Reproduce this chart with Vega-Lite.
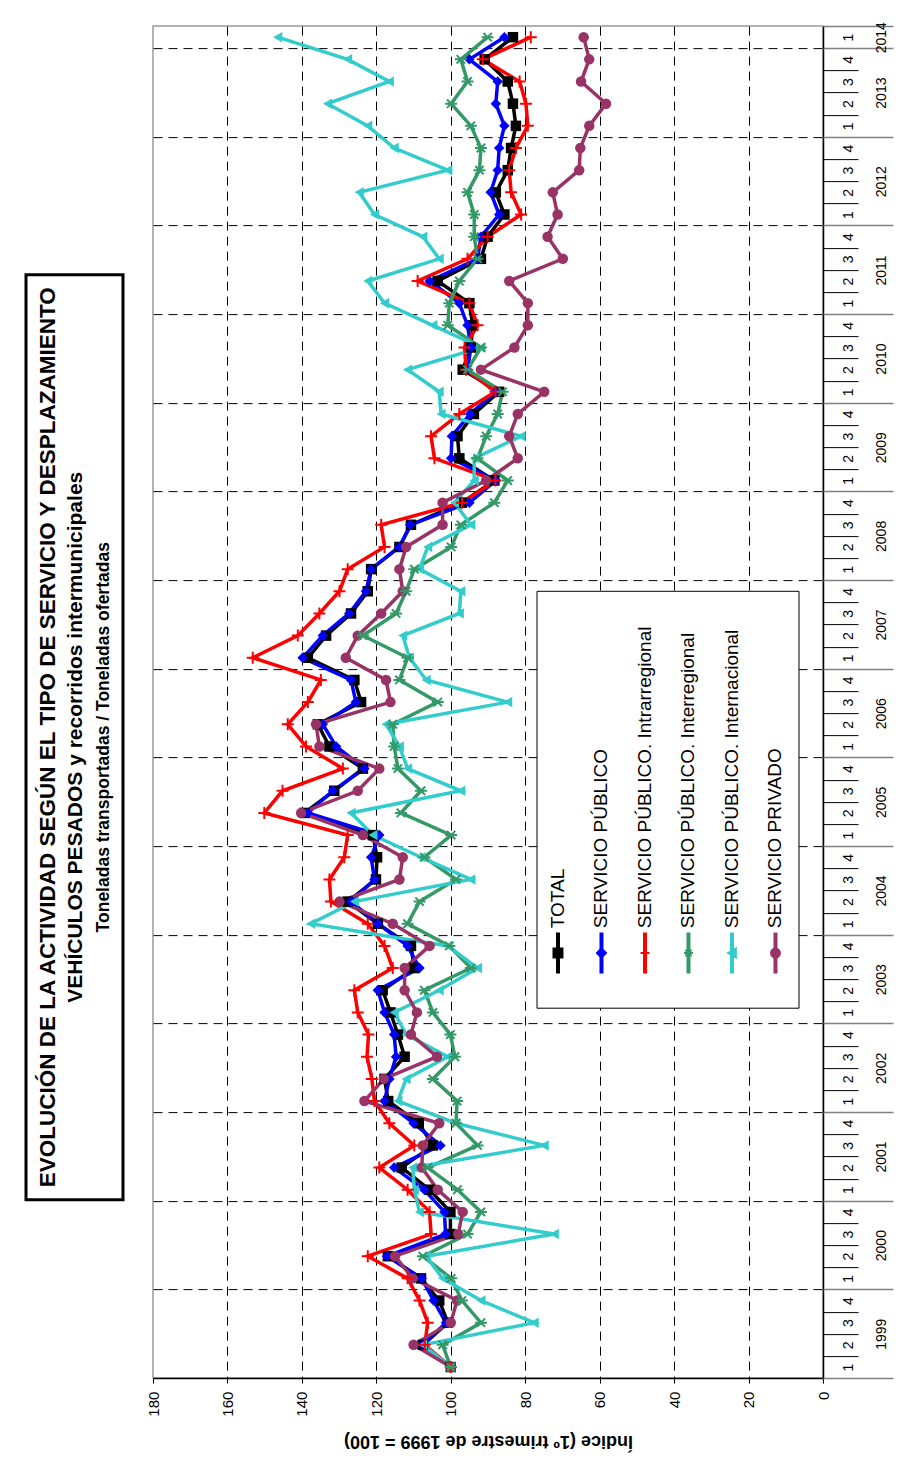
{
 "$schema": "https://vega.github.io/schema/vega-lite/v6.json",
 "background": "white",
 "padding": {"left": 24, "top": 20, "right": 5, "bottom": 20},
 "config": {"font": "Liberation Sans", "view": {"stroke": null}},
 "spacing": 20,
 "center": true,
 "hconcat": [
  {
   "width": 97, "height": 925,
   "view": {"stroke": "black", "strokeWidth": 3, "fill": "white"},
   "data": {"values": [
     {"n": 1, "t": "EVOLUCIÓN DE LA ACTIVIDAD SEGÚN EL TIPO DE SERVICIO Y DESPLAZAMIENTO"},
     {"n": 2, "t": "VEHÍCULOS PESADOS y recorridos intermunicipales"},
     {"n": 3, "t": "Toneladas transportadas / Toneladas ofertadas"}
   ]},
   "encoding": {
     "x": {"field": "n", "type": "quantitative", "scale": {"domain": [0.214, 3.678], "nice": false, "zero": false}, "axis": null},
     "text": {"field": "t", "type": "nominal"}
   },
   "layer": [
     {"transform": [{"filter": "datum.n == 1"}], "mark": {"type": "text", "angle": 270, "fontSize": 22.5, "fontWeight": "bold", "color": "black", "align": "center", "baseline": "middle"}},
     {"transform": [{"filter": "datum.n == 2"}], "mark": {"type": "text", "angle": 270, "fontSize": 21, "fontWeight": "bold", "color": "black", "align": "center", "baseline": "middle"}},
     {"transform": [{"filter": "datum.n == 3"}], "mark": {"type": "text", "angle": 270, "fontSize": 17.5, "fontWeight": "bold", "color": "black", "align": "center", "baseline": "middle"}}
   ]
  },
  {
   "width": 670, "height": 1352,
   "view": {"stroke": "#999999", "strokeWidth": 1.5},
   "data": {"values": [
    {"q":0,"T":100,"SP":100,"SPA":100,"SPE":100,"SPI":100,"PR":100},
    {"q":1,"T":107.5,"SP":107.5,"SPA":107,"SPE":102.2,"SPI":107.5,"PR":110},
    {"q":2,"T":100.8,"SP":101.3,"SPA":106.2,"SPE":91.9,"SPI":77.6,"PR":100},
    {"q":3,"T":103.1,"SP":104.6,"SPA":108.4,"SPE":97,"SPI":91.9,"PR":98.3},
    {"q":4,"T":108,"SP":107.8,"SPA":111.6,"SPE":99.9,"SPI":102.2,"PR":110.2},
    {"q":5,"T":116.9,"SP":117.1,"SPA":122.3,"SPE":107.5,"SPI":106.6,"PR":115},
    {"q":6,"T":100.1,"SP":101.4,"SPA":105.3,"SPE":95.5,"SPI":72.2,"PR":98},
    {"q":7,"T":100.1,"SP":101.7,"SPA":105.7,"SPE":91.9,"SPI":108.4,"PR":96.8},
    {"q":8,"T":105.7,"SP":107.1,"SPA":111.6,"SPE":98.2,"SPI":109.8,"PR":103.5},
    {"q":9,"T":113.2,"SP":115.2,"SPA":119.2,"SPE":106.2,"SPI":110.2,"PR":107.8},
    {"q":10,"T":104.8,"SP":102.8,"SPA":109.8,"SPE":92.8,"SPI":74.9,"PR":107.5},
    {"q":11,"T":108.6,"SP":110,"SPA":116.5,"SPE":98.6,"SPI":98.6,"PR":103.1},
    {"q":12,"T":116.8,"SP":117.8,"SPA":120.5,"SPE":98.3,"SPI":114.2,"PR":123.2},
    {"q":13,"T":117.8,"SP":116.5,"SPA":121.2,"SPE":104.8,"SPI":112,"PR":118},
    {"q":14,"T":112.4,"SP":114.7,"SPA":122.5,"SPE":98.9,"SPI":100.8,"PR":103.7},
    {"q":15,"T":114.2,"SP":115.2,"SPA":122.1,"SPE":100.1,"SPI":112,"PR":110.7},
    {"q":16,"T":116.2,"SP":117.8,"SPA":125,"SPE":104.8,"SPI":115.2,"PR":109.1},
    {"q":17,"T":118.3,"SP":119.6,"SPA":125.9,"SPE":107.1,"SPI":103.1,"PR":112.4},
    {"q":18,"T":109.8,"SP":108.4,"SPA":115.6,"SPE":94.6,"SPI":92.8,"PR":112.4},
    {"q":19,"T":110.7,"SP":111.6,"SPA":117.8,"SPE":100.4,"SPI":100.8,"PR":105.7},
    {"q":20,"T":119.6,"SP":119.5,"SPA":122.3,"SPE":111.6,"SPI":137.6,"PR":115.6},
    {"q":21,"T":127.7,"SP":126.8,"SPA":132.2,"SPE":108.4,"SPI":125.9,"PR":129.9},
    {"q":22,"T":120.1,"SP":120.5,"SPA":132.6,"SPE":98.6,"SPI":94.6,"PR":113.8},
    {"q":23,"T":119.8,"SP":121.4,"SPA":128.6,"SPE":107.1,"SPI":108,"PR":112.9},
    {"q":24,"T":120.9,"SP":119.2,"SPA":127.7,"SPE":99.9,"SPI":120.9,"PR":123.6},
    {"q":25,"T":139.3,"SP":138.4,"SPA":150.1,"SPE":113.4,"SPI":126.8,"PR":140.2},
    {"q":26,"T":131.3,"SP":131.7,"SPA":145.2,"SPE":108,"SPI":97.3,"PR":125},
    {"q":27,"T":123.6,"SP":123.2,"SPA":129,"SPE":114.2,"SPI":111.6,"PR":119.2},
    {"q":28,"T":132.6,"SP":130.8,"SPA":138.9,"SPE":115.2,"SPI":113.8,"PR":135.3},
    {"q":29,"T":135.7,"SP":134.4,"SPA":143.8,"SPE":115.6,"SPI":117.4,"PR":136.2},
    {"q":30,"T":124.1,"SP":125.5,"SPA":138.4,"SPE":103.5,"SPI":84.7,"PR":116.2},
    {"q":31,"T":125.9,"SP":126.8,"SPA":134.9,"SPE":113.8,"SPI":106.6,"PR":117.4},
    {"q":32,"T":138.4,"SP":139.8,"SPA":153.2,"SPE":111.6,"SPI":111.1,"PR":128.2},
    {"q":33,"T":133.5,"SP":134.4,"SPA":141.1,"SPE":123.6,"SPI":112.9,"PR":125},
    {"q":34,"T":126.8,"SP":127.3,"SPA":135.3,"SPE":114.7,"SPI":97.7,"PR":118.7},
    {"q":35,"T":122.3,"SP":122.8,"SPA":129.9,"SPE":112,"SPI":97.3,"PR":112.9},
    {"q":36,"T":121.4,"SP":121.4,"SPA":127.7,"SPE":109.8,"SPI":108.4,"PR":113.8},
    {"q":37,"T":113.8,"SP":113.8,"SPA":117.8,"SPE":99.9,"SPI":106.2,"PR":112},
    {"q":38,"T":110.7,"SP":110.9,"SPA":118.7,"SPE":97.3,"SPI":94.6,"PR":102.2},
    {"q":39,"T":97,"SP":95,"SPA":97,"SPE":88.3,"SPI":99,"PR":102.2},
    {"q":40,"T":88.3,"SP":87.9,"SPA":88,"SPE":84.7,"SPI":93.7,"PR":90.5},
    {"q":41,"T":97.7,"SP":99.9,"SPA":104.4,"SPE":92.8,"SPI":93.7,"PR":82},
    {"q":42,"T":98.2,"SP":99.7,"SPA":105.3,"SPE":90.5,"SPI":81.1,"PR":84.3},
    {"q":43,"T":93.8,"SP":94.8,"SPA":97.7,"SPE":87.4,"SPI":102.6,"PR":82},
    {"q":44,"T":87,"SP":87.9,"SPA":88,"SPE":86.1,"SPI":103.1,"PR":74.9},
    {"q":45,"T":96.8,"SP":95.5,"SPA":95.9,"SPE":95.5,"SPI":111.6,"PR":91.9},
    {"q":46,"T":94.6,"SP":94.6,"SPA":96.3,"SPE":91.9,"SPI":91.9,"PR":82.9},
    {"q":47,"T":94.1,"SP":95.5,"SPA":92.8,"SPE":100.8,"SPI":104.8,"PR":79.3},
    {"q":48,"T":95,"SP":97.7,"SPA":95,"SPE":100.4,"SPI":117.8,"PR":79.3},
    {"q":49,"T":103.5,"SP":105.7,"SPA":108.9,"SPE":97.7,"SPI":122.3,"PR":84.3},
    {"q":50,"T":91.9,"SP":92.8,"SPA":95.5,"SPE":92.8,"SPI":103.1,"PR":69.9},
    {"q":51,"T":90.1,"SP":91.9,"SPA":90.1,"SPE":93.7,"SPI":107.5,"PR":74},
    {"q":52,"T":85.6,"SP":87,"SPA":81.1,"SPE":93.7,"SPI":120.5,"PR":71.3},
    {"q":53,"T":87.9,"SP":89.3,"SPA":83.8,"SPE":95.5,"SPI":124.6,"PR":72.6},
    {"q":54,"T":84.7,"SP":87.4,"SPA":84.3,"SPE":92.3,"SPI":100.8,"PR":65.5},
    {"q":55,"T":83.8,"SP":87,"SPA":82.5,"SPE":91.9,"SPI":115.2,"PR":65.2},
    {"q":56,"T":82.5,"SP":85.6,"SPA":79.3,"SPE":94.6,"SPI":122.3,"PR":62.8},
    {"q":57,"T":83.3,"SP":87.9,"SPA":79.8,"SPE":99.9,"SPI":133.1,"PR":58.3},
    {"q":58,"T":84.7,"SP":87.4,"SPA":81.5,"SPE":95.5,"SPI":116.5,"PR":65},
    {"q":59,"T":90.9,"SP":95,"SPA":91.4,"SPE":97.3,"SPI":127.7,"PR":62.8},
    {"q":60,"T":83.3,"SP":85.6,"SPA":78.5,"SPE":90.1,"SPI":146.5,"PR":64.3}
   ]},
   "layer": [
    {
     "transform": [{"fold": ["T", "SP", "SPA", "SPE", "SPI", "PR"], "as": ["serie", "valor"]}],
     "mark": {"type": "line", "strokeWidth": 3.5, "clip": false},
     "encoding": {
       "x": {"field": "valor", "type": "quantitative",
         "scale": {"domain": [0, 180], "reverse": true, "nice": false, "zero": false},
         "axis": {"orient": "bottom", "values": [0, 20, 40, 60, 80, 100, 120, 140, 160, 180],
           "labelAngle": 270, "labelAlign": "right", "labelBaseline": "middle", "labelFontSize": 15, "labelColor": "black",
           "labelPadding": 8, "labelFlush": false, "labelOverlap": false, "labelBound": false,
           "tickSize": 5, "tickColor": "black", "domainColor": "black", "domainWidth": 1.5,
           "grid": true, "gridColor": "#000000", "gridDash": [9, 6], "gridWidth": 1,
           "gridOpacity": {"condition": {"test": "datum.value > 0 && datum.value < 180", "value": 1}, "value": 0},
           "title": "Índice (1º trimestre de 1999 = 100)", "titleAngle": 180, "titleBaseline": "bottom",
           "titleFontSize": 18, "titleFontWeight": "bold", "titleColor": "black", "titlePadding": 15}},
       "y": {"field": "q", "type": "quantitative", "scale": {"domain": [-0.5, 60.5], "nice": false, "zero": false},
         "axis": {"orient": "right", "values": [0,1,2,3,4,5,6,7,8,9,10,11,12,13,14,15,16,17,18,19,20,21,22,23,24,25,26,27,28,29,30,31,32,33,34,35,36,37,38,39,40,41,42,43,44,45,46,47,48,49,50,51,52,53,54,55,56,57,58,59,60],
           "labelExpr": "'' + (datum.value % 4 + 1)", "ticks": false, "grid": false, "domain": true,
           "domainColor": "black", "domainWidth": 1.5, "labelAngle": 270, "labelAlign": "center", "labelBaseline": "middle",
           "labelPadding": 25, "labelFontSize": 14, "labelColor": "black", "labelOverlap": false, "labelFlush": false, "labelBound": false, "title": null}},
       "color": {"field": "serie", "type": "nominal", "legend": null,
         "scale": {"domain": ["T", "SP", "SPA", "SPE", "SPI", "PR"], "range": ["#000000", "#0000ff", "#ff0000", "#339966", "#33cccc", "#993366"]}},
       "order": {"field": "q", "type": "quantitative"}
     }
    },
    {
     "transform": [{"fold": ["T", "SP", "SPA", "SPE", "SPI", "PR"], "as": ["serie", "valor"]}, {"filter": "datum.serie == 'T' || datum.serie == 'SP' || datum.serie == 'SPI' || datum.serie == 'PR'"}],
     "mark": {"type": "point", "filled": true, "opacity": 1, "size": 110, "clip": false},
     "encoding": {
       "x": {"field": "valor", "type": "quantitative"},
       "y": {"field": "q", "type": "quantitative", "scale": {"domain": [-0.5, 60.5], "nice": false, "zero": false},
         "axis": {"orient": "right", "domain": false, "labels": false, "title": null,
           "values": [-0.5,0.5,1.5,2.5,3.5,4.5,5.5,6.5,7.5,8.5,9.5,10.5,11.5,12.5,13.5,14.5,15.5,16.5,17.5,18.5,19.5,20.5,21.5,22.5,23.5,24.5,25.5,26.5,27.5,28.5,29.5,30.5,31.5,32.5,33.5,34.5,35.5,36.5,37.5,38.5,39.5,40.5,41.5,42.5,43.5,44.5,45.5,46.5,47.5,48.5,49.5,50.5,51.5,52.5,53.5,54.5,55.5,56.5,57.5,58.5,59.5,60.5],
           "grid": true, "gridColor": "#000000", "gridDash": [9, 6], "gridWidth": 1,
           "gridOpacity": {"condition": {"test": "(datum.value + 0.5) % 4 == 0 && datum.value > 0", "value": 1}, "value": 0},
           "tickSize": {"condition": {"test": "(datum.value + 0.5) % 4 == 0 || datum.value == 60.5", "value": 70}, "value": 35},
           "tickColor": {"condition": {"test": "(datum.value + 0.5) % 4 == 0 || datum.value == 60.5", "value": "#808080"}, "value": "#000000"},
           "tickWidth": {"condition": {"test": "(datum.value + 0.5) % 4 == 0 || datum.value == 60.5", "value": 1.5}, "value": 1}}},
       "color": {"field": "serie", "type": "nominal", "legend": null},
       "shape": {"field": "serie", "type": "nominal", "legend": null,
         "scale": {"domain": ["T", "SP", "SPA", "SPE", "SPI", "PR"], "range": ["square", "diamond", "M-1,0L1,0M0,-1L0,1", "M-1,0L1,0M-0.7,-0.7L0.7,0.7M-0.7,0.7L0.7,-0.7", "triangle-left", "circle"]}}
     }
    },
    {
     "transform": [{"fold": ["T", "SP", "SPA", "SPE", "SPI", "PR"], "as": ["serie", "valor"]}, {"filter": "datum.serie == 'SPA' || datum.serie == 'SPE'"}],
     "mark": {"type": "point", "filled": false, "opacity": 1, "size": 144, "strokeWidth": 2, "clip": false},
     "encoding": {
       "x": {"field": "valor", "type": "quantitative"},
       "y": {"field": "q", "type": "quantitative", "scale": {"domain": [-0.5, 60.5], "nice": false, "zero": false},
         "axis": {"orient": "right", "domain": false, "ticks": false, "grid": false, "title": null,
           "values": [1.5, 5.5, 9.5, 13.5, 17.5, 21.5, 25.5, 29.5, 33.5, 37.5, 41.5, 45.5, 49.5, 53.5, 57.5, 60],
           "labelExpr": "'' + (datum.value == 60 ? 2014 : 1999 + (datum.value - 1.5) / 4)",
           "labelAngle": 270, "labelAlign": "center", "labelBaseline": "middle", "labelPadding": 58,
           "labelFontSize": 14, "labelColor": "black", "labelOverlap": false, "labelFlush": false, "labelBound": false}},
       "color": {"field": "serie", "type": "nominal", "legend": null},
       "shape": {"field": "serie", "type": "nominal", "legend": null}
     }
    },
    {
     "data": {"values": [{"caja": "leyenda"}]},
     "mark": {"type": "rect", "fill": "white", "stroke": "black", "strokeWidth": 1, "clip": false},
     "encoding": {
       "x": {"datum": 76.83}, "x2": {"datum": 6.45},
       "y": {"datum": 35.0, "axis": null}, "y2": {"datum": 16.19}
     }
    },
    {
     "data": {"values": [
       {"serie": "T", "etiqueta": "TOTAL"},
       {"serie": "SP", "etiqueta": "SERVICIO PÚBLICO"},
       {"serie": "SPA", "etiqueta": "SERVICIO PÚBLICO. Intrarregional"},
       {"serie": "SPE", "etiqueta": "SERVICIO PÚBLICO. Interregional"},
       {"serie": "SPI", "etiqueta": "SERVICIO PÚBLICO. Internacional"},
       {"serie": "PR", "etiqueta": "SERVICIO PRIVADO"}
     ]},
     "encoding": {
       "x": {"datum": 71.2},
       "xOffset": {"field": "serie", "type": "nominal", "scale": {"type": "point", "domain": ["T", "SP", "SPA", "SPE", "SPI", "PR"], "range": [0, 217.5], "padding": 0}}
     },
     "layer": [
       {"mark": {"type": "point", "shape": "M0,-1L0,1", "size": 1681, "filled": false, "strokeWidth": 4, "opacity": 1, "clip": false},
        "encoding": {"y": {"datum": 18.68, "axis": null}, "color": {"field": "serie", "type": "nominal", "legend": null}}},
       {"mark": {"type": "point", "filled": true, "size": 80, "strokeWidth": 2, "opacity": 1, "clip": false},
        "encoding": {"y": {"datum": 18.68, "axis": null},
          "color": {"field": "serie", "type": "nominal", "legend": null},
          "stroke": {"field": "serie", "type": "nominal", "legend": null, "scale": {"domain": ["T", "SP", "SPA", "SPE", "SPI", "PR"], "range": ["#000000", "#0000ff", "#ff0000", "#339966", "#33cccc", "#993366"]}},
          "shape": {"field": "serie", "type": "nominal", "legend": null}}},
       {"mark": {"type": "text", "angle": 270, "align": "left", "baseline": "middle", "fontSize": 19, "color": "black", "clip": false},
        "encoding": {"y": {"datum": 19.8, "axis": null}, "text": {"field": "etiqueta", "type": "nominal"}}}
     ]
    }
   ],
   "resolve": {"axis": {"y": "independent"}}
  }
 ]
}
